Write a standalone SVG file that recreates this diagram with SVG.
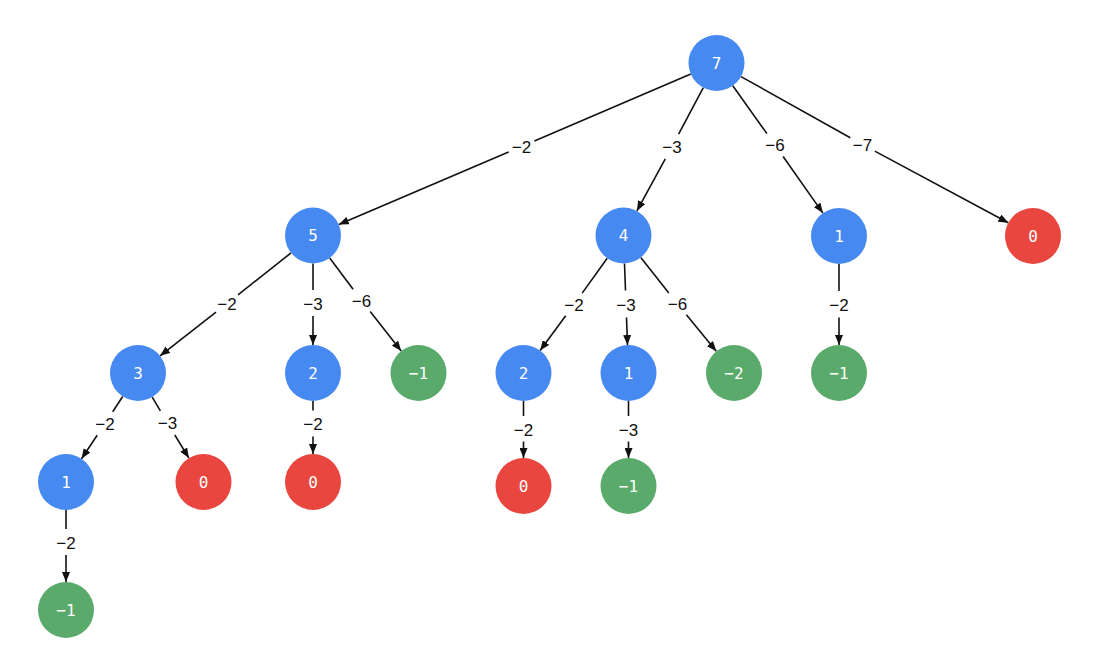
<svg xmlns="http://www.w3.org/2000/svg" width="1102" height="665" viewBox="0 0 1102 665">
<defs>
<marker id="arr" markerUnits="userSpaceOnUse" markerWidth="10" markerHeight="8" refX="10" refY="4" orient="auto">
<path d="M0,0 L10,4 L0,8 z" fill="#111"/>
</marker>
<style>
.e{stroke:#111;stroke-width:1.6;fill:none}
.a{marker-end:url(#arr)}
.lbl{font-family:"Liberation Sans",Arial,sans-serif;font-size:17px;fill:#111;text-anchor:middle}
.n text{font-family:"DejaVu Sans Mono","Liberation Mono",monospace;font-size:16px;fill:#fff;text-anchor:middle}
.b{fill:#4689F1}
.r{fill:#E8463E}
.g{fill:#5AAA6B}
</style>
</defs>
<rect width="1102" height="665" fill="#fff"/>
<g id="connectors">
<line class="e" x1="690.8" y1="74.0" x2="534.4" y2="141.0"/><line class="e a" x1="508.6" y1="152.0" x2="338.8" y2="224.5"/>
<text class="lbl" x="521.5" y="152.5">−2</text>
<line class="e" x1="703.3" y1="87.7" x2="678.6" y2="134.1"/><line class="e a" x1="665.3" y1="158.8" x2="636.9" y2="210.9"/>
<text class="lbl" x="672" y="152.5">−3</text>
<line class="e" x1="732.8" y1="85.8" x2="766.9" y2="133.6"/><line class="e a" x1="783.1" y1="156.5" x2="822.9" y2="213.1"/>
<text class="lbl" x="775" y="151">−6</text>
<line class="e" x1="741.0" y1="76.6" x2="850.3" y2="137.7"/><line class="e a" x1="874.8" y1="151.1" x2="1008.3" y2="222.8"/>
<text class="lbl" x="862.5" y="150.5">−7</text>
<line class="e" x1="291.0" y1="252.9" x2="238.0" y2="294.8"/><line class="e a" x1="216.0" y1="312.1" x2="160.1" y2="355.8"/>
<text class="lbl" x="227" y="309.5">−2</text>
<line class="e" x1="313" y1="263.5" x2="313" y2="290"/><line class="e a" x1="313" y1="316" x2="313" y2="345"/>
<text class="lbl" x="313" y="309.5">−3</text>
<line class="e" x1="329.7" y1="257.9" x2="353.1" y2="289.3"/><line class="e a" x1="370.2" y1="311.5" x2="401.2" y2="351.0"/>
<text class="lbl" x="361.5" y="306.5">−6</text>
<line class="e" x1="607.2" y1="258.3" x2="582.2" y2="293.1"/><line class="e a" x1="565.7" y1="315.8" x2="540.1" y2="350.5"/>
<text class="lbl" x="574" y="310.5">−2</text>
<line class="e" x1="624.5" y1="263.5" x2="625.5" y2="290.5"/><line class="e a" x1="626.5" y1="317.5" x2="627.5" y2="345"/>
<text class="lbl" x="626" y="310.5">−3</text>
<line class="e" x1="640.8" y1="257.5" x2="668.8" y2="293.0"/><line class="e a" x1="686.4" y1="314.8" x2="716.3" y2="351.3"/>
<text class="lbl" x="677.5" y="310">−6</text>
<line class="e" x1="839" y1="264" x2="839" y2="291"/><line class="e a" x1="839" y1="317.5" x2="839" y2="345"/>
<text class="lbl" x="839" y="310.5">−2</text>
<line class="e" x1="122.7" y1="396.5" x2="112.7" y2="411.8"/><line class="e a" x1="97.2" y1="435.2" x2="81.5" y2="458.7"/>
<text class="lbl" x="105" y="429.5">−2</text>
<line class="e" x1="152.2" y1="397.1" x2="160.4" y2="410.9"/><line class="e a" x1="174.8" y1="435.0" x2="188.9" y2="458.1"/>
<text class="lbl" x="167.5" y="429">−3</text>
<line class="e" x1="313" y1="401" x2="313" y2="410.5"/><line class="e a" x1="313" y1="436.5" x2="313" y2="454"/>
<text class="lbl" x="313" y="429.5">−2</text>
<line class="e" x1="66" y1="510" x2="66" y2="529"/><line class="e a" x1="66" y1="555" x2="66" y2="582"/>
<text class="lbl" x="66" y="548.5">−2</text>
<line class="e" x1="523.5" y1="401" x2="523.5" y2="416"/><line class="e a" x1="523.5" y1="441.5" x2="523.5" y2="458"/>
<text class="lbl" x="523.5" y="436">−2</text>
<line class="e" x1="628.5" y1="401" x2="628.5" y2="416"/><line class="e a" x1="628.5" y1="441.5" x2="628.5" y2="458"/>
<text class="lbl" x="628.5" y="436">−3</text>
</g>
<g id="n7" class="n"><circle class="b" cx="716.5" cy="63" r="28"/><text x="716.5" y="68.5">7</text></g>
<g id="n5" class="n"><circle class="b" cx="313" cy="235.5" r="28"/><text x="313" y="241">5</text></g>
<g id="n4" class="n"><circle class="b" cx="623.5" cy="235.5" r="28"/><text x="623.5" y="241">4</text></g>
<g id="n1a" class="n"><circle class="b" cx="839" cy="236" r="28"/><text x="839" y="241.5">1</text></g>
<g id="n0a" class="n"><circle class="r" cx="1033" cy="236" r="28"/><text x="1033" y="241.5">0</text></g>
<g id="n3" class="n"><circle class="b" cx="138" cy="373" r="28"/><text x="138" y="378.5">3</text></g>
<g id="n2a" class="n"><circle class="b" cx="313" cy="373" r="28"/><text x="313" y="378.5">2</text></g>
<g id="nm1a" class="n"><circle class="g" cx="418.5" cy="373" r="28"/><text x="418.5" y="378.5">−1</text></g>
<g id="n2b" class="n"><circle class="b" cx="523.5" cy="373" r="28"/><text x="523.5" y="378.5">2</text></g>
<g id="n1b" class="n"><circle class="b" cx="628.5" cy="373" r="28"/><text x="628.5" y="378.5">1</text></g>
<g id="nm2" class="n"><circle class="g" cx="734" cy="373" r="28"/><text x="734" y="378.5">−2</text></g>
<g id="nm1b" class="n"><circle class="g" cx="839" cy="373" r="28"/><text x="839" y="378.5">−1</text></g>
<g id="n1c" class="n"><circle class="b" cx="66" cy="482" r="28"/><text x="66" y="487.5">1</text></g>
<g id="n0b" class="n"><circle class="r" cx="203.5" cy="482" r="28"/><text x="203.5" y="487.5">0</text></g>
<g id="n0c" class="n"><circle class="r" cx="313" cy="482" r="28"/><text x="313" y="487.5">0</text></g>
<g id="n0d" class="n"><circle class="r" cx="523.5" cy="486" r="28"/><text x="523.5" y="491.5">0</text></g>
<g id="nm1c" class="n"><circle class="g" cx="628.5" cy="486" r="28"/><text x="628.5" y="491.5">−1</text></g>
<g id="nm1d" class="n"><circle class="g" cx="66" cy="610" r="28"/><text x="66" y="615.5">−1</text></g>
</svg>
